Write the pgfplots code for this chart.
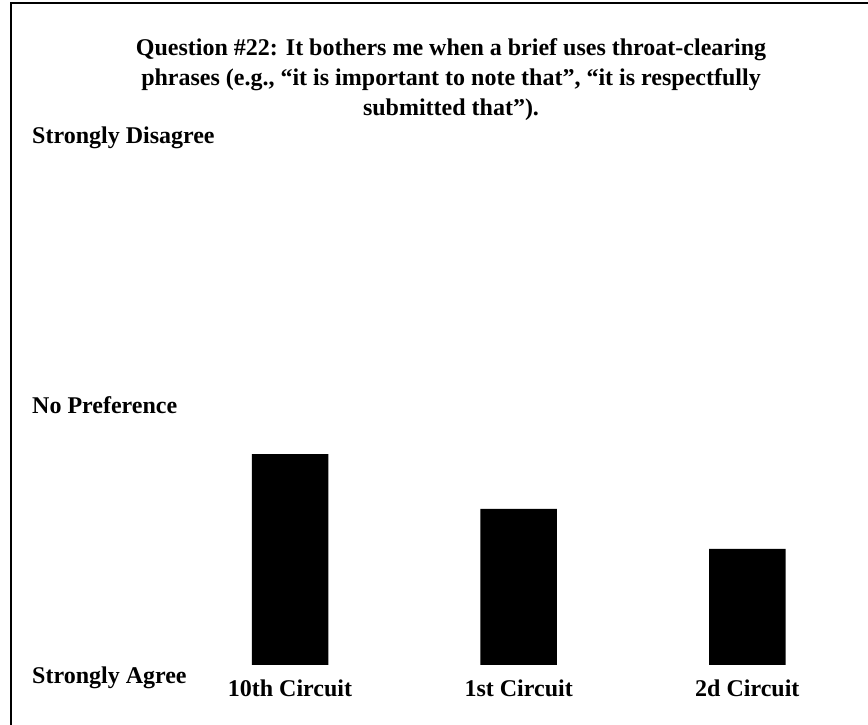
\documentclass[border=0pt]{standalone}
\usepackage{fontspec}
\setmainfont{Liberation Serif}
\usepackage{pgfplots}
\pgfplotsset{compat=1.18}
\newcommand{\lbl}{\bfseries\fontsize{24bp}{30bp}\selectfont}
\begin{document}
\begin{tikzpicture}
\useasboundingbox (0,0) rectangle (868bp,725bp);
\draw[line width=2.5bp] (11bp,0) -- (11bp,722bp) -- (868bp,722bp);
\node[align=center, font=\lbl] at (451bp,645bp) {Question \#22: It bothers me when a brief uses throat-clearing\\phrases (e.g., “it is important to note that”, “it is respectfully\\submitted that”).};
\begin{axis}[
  at={(32bp,60bp)}, anchor=south west,
  scale only axis, width=834bp, height=534bp,
  xmin=-1.1284, xmax=2.519, ymin=1, ymax=5,
  axis line style={draw=none}, tick style={draw=none},
  xtick={0,1,2}, xticklabels={10th Circuit,1st Circuit,2d Circuit},
  ytick={1,3,5}, yticklabels={\raisebox{-6bp}[\height][\depth]{Strongly Agree},No Preference,Strongly Disagree},
  yticklabel style={anchor=west, inner sep=0pt, yshift=-7bp},
  xticklabel style={yshift=-7bp},
  tick label style={font=\lbl},
  ybar, bar width=76.5bp, clip=true,
]
\addplot[fill=black, draw=none, bar shift=0pt] coordinates {(0,2.58) (1,2.17) (2,1.87)};
\end{axis}
\end{tikzpicture}
\end{document}
